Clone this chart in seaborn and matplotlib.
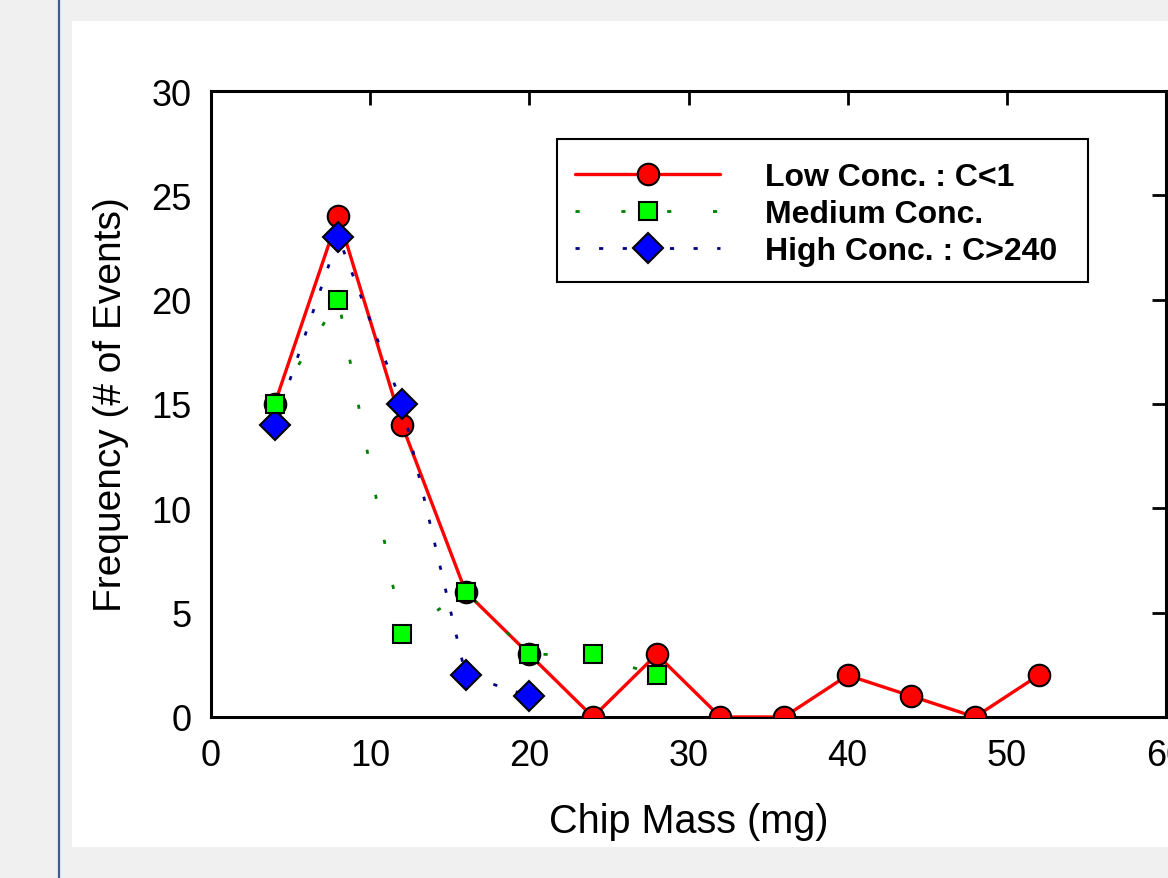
import matplotlib
matplotlib.use("Agg")
import matplotlib.pyplot as plt
from matplotlib.patches import Rectangle
from matplotlib.lines import Line2D
import seaborn as sns
import pandas as pd

# Chip mass bins (mg) and event counts for each concentration group
low_mass = [4, 8, 12, 16, 20, 24, 28, 32, 36, 40, 44, 48, 52]
low_freq = [15, 24, 14, 6, 3, 0, 3, 0, 0, 2, 1, 0, 2]
med_mass = [4, 8, 12, 16, 20, 24, 28]
med_freq = [15, 20, 4, 6, 3, 3, 2]
high_mass = [4, 8, 12, 16, 20]
high_freq = [14, 23, 15, 2, 1]

labels = ["Low Conc. : C<1", "Medium Conc.", "High Conc. : C>240"]
x_ticks = [0, 10, 20, 30, 40, 50, 60]
y_ticks = [0, 5, 10, 15, 20, 25, 30]

sns.set_theme(style="white")
plt.rcParams["font.family"] = ["Liberation Sans", "DejaVu Sans"]
plt.rcParams["text.color"] = "black"
plt.rcParams["axes.labelcolor"] = "black"
plt.rcParams["xtick.color"] = "black"
plt.rcParams["ytick.color"] = "black"

fig = plt.figure(figsize=(11.68, 8.79), dpi=100)
fig.patch.set_facecolor("#f0f0f0")

# white panel behind the chart and the thin blue frame line on the left
fig.add_artist(Rectangle((72 / 1168, 1 - 848 / 879), 1.0, (848 - 22) / 879,
                         transform=fig.transFigure, facecolor="white",
                         edgecolor="none", zorder=0))
fig.add_artist(Line2D([58.5 / 1168, 58.5 / 1168], [0, 1], transform=fig.transFigure,
                      color="#3a5f95", lw=1.6, zorder=1))

ax = fig.add_axes([211 / 1168, 1 - 718 / 879, (1166 - 211) / 1168, (718 - 92) / 879])
ax.set_facecolor("white")

df_low = pd.DataFrame({"mass": low_mass, "freq": low_freq})
df_med = pd.DataFrame({"mass": med_mass, "freq": med_freq})
df_high = pd.DataFrame({"mass": high_mass, "freq": high_freq})

sns.lineplot(data=df_low, x="mass", y="freq", ax=ax, color="#ff0000", lw=2.4,
             marker="o", markersize=15.5, markerfacecolor="#ff0000",
             markeredgecolor="black", markeredgewidth=1.5, label=labels[0],
             zorder=3)
sns.lineplot(data=df_med, x="mass", y="freq", ax=ax, color="#008000", lw=2.0,
             linestyle=(0, (1.5, 15)), marker="s", markersize=13,
             markerfacecolor="#00ff00", markeredgecolor="black",
             markeredgewidth=1.5, label=labels[1], zorder=5)
sns.lineplot(data=df_high, x="mass", y="freq", ax=ax, color="#000080", lw=2.0,
             linestyle=(0, (1.5, 7)), marker="D", markersize=15,
             markerfacecolor="#0000ff", markeredgecolor="black",
             markeredgewidth=1.5, label=labels[2], zorder=4)

ax.set_xlim(0, 60)
ax.set_ylim(0, 30)
ax.set_xticks(x_ticks)
ax.set_yticks(y_ticks)
ax.tick_params(axis="both", which="major", direction="in", length=10, width=2,
               top=True, right=True, labelsize=26, colors="black")
ax.tick_params(axis="x", pad=15)
ax.tick_params(axis="y", pad=14)
for s in ax.spines.values():
    s.set_visible(True)
    s.set_color("black")
    s.set_linewidth(2.2)

ax.set_xlabel("Chip Mass (mg)", fontsize=28.5, labelpad=21, color="black")
ax.set_ylabel("Frequency (# of Events)", fontsize=28, labelpad=16, color="black")

# legend box drawn separately so it can carry extra room on the right
ax.add_patch(Rectangle((0.3623, 0.6949), 0.9183 - 0.3623, 0.9233 - 0.6949,
                       transform=ax.transAxes, facecolor="white",
                       edgecolor="black", lw=1.5, zorder=6))
leg = ax.legend(loc="upper left", bbox_to_anchor=(0.381, 0.886), borderaxespad=0,
                frameon=False, prop={"weight": "bold", "size": 23},
                handlelength=4.55, handletextpad=1.4, labelspacing=0.22,
                borderpad=0, numpoints=1)
leg.set_zorder(7)
for t in leg.get_texts():
    t.set_color("black")

fig.savefig("out.png", dpi=100, facecolor=fig.get_facecolor())
